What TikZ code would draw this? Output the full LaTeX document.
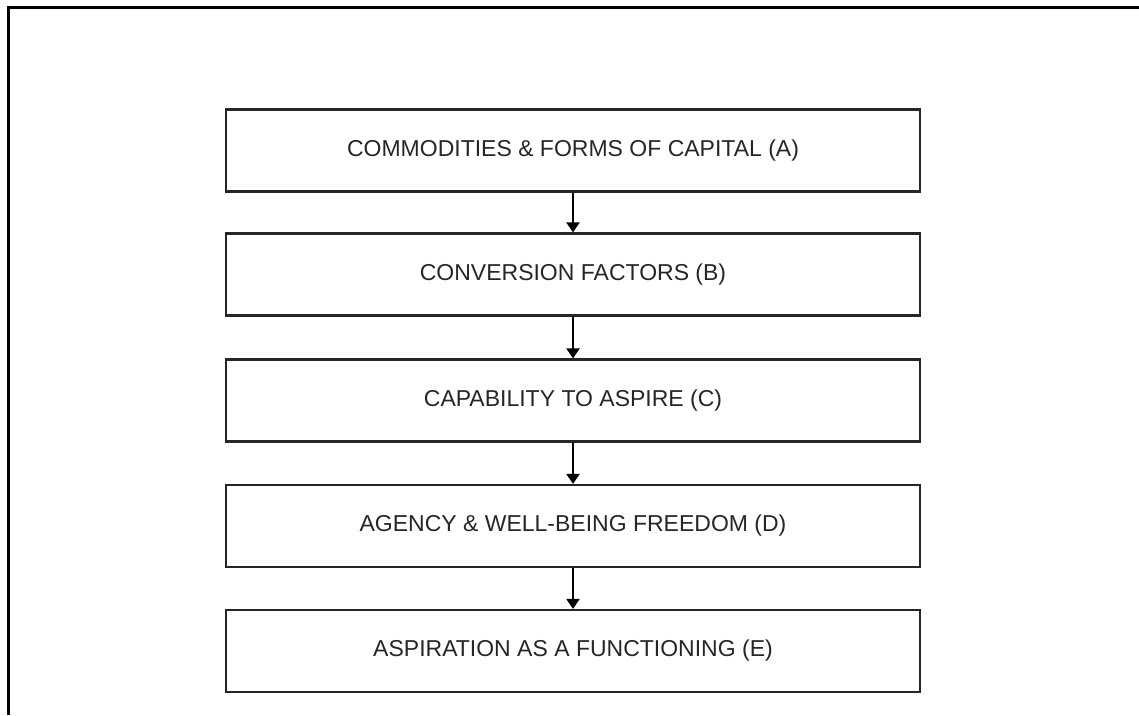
\documentclass[tikz,border=0pt]{standalone}
\usepackage{fontspec}
\setmainfont{Liberation Sans}
\usetikzlibrary{arrows.meta}
\begin{document}
\begin{tikzpicture}[x=1pt,y=-1pt,
  stagebox/.style={draw=black!85, line width=2.2pt, minimum width=694pt,
    minimum height=82pt, inner sep=0pt, font=\fontsize{23}{26}\selectfont,
    text=black!85},
  flow/.style={line width=2.2pt, -{Triangle[width=13pt,length=10pt]}}]
  \useasboundingbox (0,0) rectangle (1139,715);
  % open frame: left and top edges only
  \draw[line width=3pt] (8,715) -- (8,7) -- (1139,7);
  % stages
  \node[stagebox] (A) at (573,150.5) {COMMODITIES \& FORMS OF CAPITAL (A)};
  \node[stagebox] (B) at (573,274.5) {CONVERSION FACTORS (B)};
  \node[stagebox] (C) at (573,400.5) {CAPABILITY TO ASPIRE (C)};
  \node[stagebox] (D) at (573,526) {AGENCY \& WELL-BEING FREEDOM (D)};
  \node[stagebox] (E) at (573,651) {ASPIRATION AS A FUNCTIONING (E)};
  % arrows between consecutive stages
  \draw[flow] (A) -- (B);
  \draw[flow] (B) -- (C);
  \draw[flow] (C) -- (D);
  \draw[flow] (D) -- (E);
\end{tikzpicture}
\end{document}
